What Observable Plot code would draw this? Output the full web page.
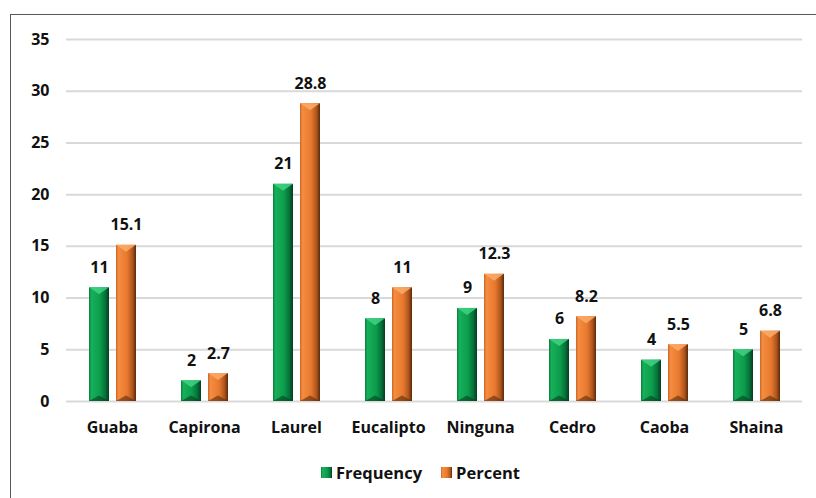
<!DOCTYPE html>
<html>
<head>
<meta charset="utf-8">
<script src="https://cdn.jsdelivr.net/npm/d3@7"></script>
<script src="https://cdn.jsdelivr.net/npm/@observablehq/plot@0.6"></script>
<style>
  html, body { margin: 0; padding: 0; background: #fff; overflow: hidden; width: 816px; height: 498px; }
  #frame { position: absolute; left: 10px; top: 14px; width: 900px; height: 600px; border: 1px solid #595959; box-sizing: border-box; }
  #chart { position: absolute; left: 0; top: 0; }
  #legend { position: absolute; left: 321px; top: 461px; display: flex; gap: 19px;
            font-family: "Open Sans", Lato, sans-serif; font-weight: bold; font-size: 16.5px; color: #111; }
  .item { display: flex; align-items: center; gap: 4px; }
  .sw { width: 11px; height: 11px; display: inline-block; }
</style>
</head>
<body>
<div id="frame"></div>
<div id="chart"></div>
<div id="legend"></div>
<script>
const categories = ["Guaba", "Capirona", "Laurel", "Eucalipto", "Ninguna", "Cedro", "Caoba", "Shaina"];
const series = ["Frequency", "Percent"];
const frequency = [11, 2, 21, 8, 9, 6, 4, 5];
const percent = [15.1, 2.7, 28.8, 11, 12.3, 8.2, 5.5, 6.8];
const yTicks = [0, 5, 10, 15, 20, 25, 30, 35];

const data = [];
categories.forEach((c, i) => {
  data.push({cat: c, series: "Frequency", value: frequency[i]});
  data.push({cat: c, series: "Percent", value: percent[i]});
});

const fontFamily = "'Open Sans', Lato, sans-serif";

const plot = Plot.plot({
  width: 816,
  height: 450,
  marginLeft: 64,
  marginRight: 13,
  marginTop: 39,
  marginBottom: 49,
  style: {fontFamily, fontSize: "16px", fontWeight: "bold", color: "#111", background: "transparent"},
  fx: {domain: categories, padding: 0, label: null},
  x: {domain: series, paddingInner: 0.27, paddingOuter: 0.78, axis: null},
  y: {domain: [0, 35], label: null},
  marks: [
    Plot.gridY(yTicks, {stroke: "#d9d9d9", strokeWidth: 2, strokeOpacity: 1}),
    Plot.axisY(yTicks, {tickSize: 0, tickPadding: 17, label: null, fontSize: 16, fontWeight: "bold"}),
    Plot.axisFx({anchor: "bottom", tickSize: 0, tickPadding: 20, label: null, fontSize: 16, fontWeight: "bold"}),
    Plot.barY(data.filter(d => d.series === "Frequency"), {fx: "cat", x: "series", y: "value", fill: "url(#gGreen)", className: "bar-green"}),
    Plot.barY(data.filter(d => d.series === "Percent"), {fx: "cat", x: "series", y: "value", fill: "url(#gOrange)", className: "bar-orange"}),
    Plot.text(data, {fx: "cat", x: "series", y: "value", text: d => String(d.value), lineAnchor: "bottom", dy: -15,
      fontSize: 16, fontWeight: "bold", fill: "#111"})
  ]
});

const svg = d3.select(plot);
const defs = svg.insert("defs", ":first-child");
function grad(id, stops) {
  const g = defs.append("linearGradient").attr("id", id).attr("x1", "0").attr("x2", "1").attr("y1", "0").attr("y2", "0");
  stops.forEach(([o, c]) => g.append("stop").attr("offset", o).attr("stop-color", c));
}
grad("gGreen", [["0%", "#0f7a3c"], ["12%", "#16b05a"], ["55%", "#0c9d4b"], ["82%", "#07703a"], ["100%", "#033d1e"]]);
grad("gOrange", [["0%", "#c9662a"], ["12%", "#f58d40"], ["55%", "#e8792f"], ["82%", "#b0561d"], ["100%", "#5a2a0b"]]);

// bevel decoration derived from the rendered bars
function bevel(cls, topColor, bottomColor) {
  svg.selectAll("g." + cls + " rect").each(function () {
    const r = d3.select(this);
    const x = +r.attr("x"), y = +r.attr("y"), w = +r.attr("width"), h = +r.attr("height");
    const p = d3.select(this.parentNode);
    const b = Math.min(7, h / 2);
    p.append("polygon").attr("points", `${x},${y} ${x + w},${y} ${x + w / 2},${y + b}`).attr("fill", topColor).attr("fill-opacity", 0.85);
    p.append("polygon").attr("points", `${x},${y + h} ${x + w},${y + h} ${x + w / 2},${y + h - b * 0.8}`).attr("fill", bottomColor).attr("fill-opacity", 0.6);
  });
}
bevel("bar-green", "#3fd283", "#03401e");
bevel("bar-orange", "#fbab6a", "#5a2a0b");

document.getElementById("chart").appendChild(plot);

const legend = document.getElementById("legend");
const swatchBg = {
  "Frequency": "linear-gradient(to right, #0f7a3c, #16b05a 15%, #0c9d4b 55%, #07703a 85%, #033d1e)",
  "Percent": "linear-gradient(to right, #c9662a, #f58d40 15%, #e8792f 55%, #b0561d 85%, #5a2a0b)"
};
series.forEach(s => {
  const item = document.createElement("div");
  item.className = "item";
  const sw = document.createElement("span");
  sw.className = "sw";
  sw.style.background = swatchBg[s];
  const t = document.createElement("span");
  t.textContent = s;
  item.appendChild(sw);
  item.appendChild(t);
  legend.appendChild(item);
});
</script>
</body>
</html>
